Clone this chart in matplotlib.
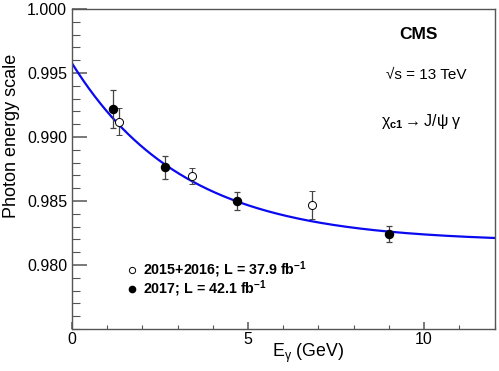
import numpy as np
import matplotlib
matplotlib.use('Agg')
import matplotlib.pyplot as plt
from matplotlib.ticker import MultipleLocator, FixedLocator, FormatStrFormatter

plt.rcParams['font.family'] = ['Liberation Sans', 'DejaVu Sans']
plt.rcParams['mathtext.fontset'] = 'custom'
plt.rcParams['mathtext.rm'] = 'Liberation Sans'
plt.rcParams['mathtext.it'] = 'Liberation Sans'
plt.rcParams['mathtext.bf'] = 'Liberation Sans:bold'

# 2015+2016 (open markers)
e_1516 = [1.33, 3.40, 6.82]
s_1516 = [0.99120, 0.98698, 0.98466]
err_1516 = [0.00108, 0.00062, 0.00110]

# 2017 (filled markers)
e_17 = [1.17, 2.64, 4.68, 9.00]
s_17 = [0.99219, 0.98765, 0.98500, 0.98242]
err_17 = [0.00150, 0.00090, 0.00068, 0.00065]

# fit: a + b*exp(-E/c)
fit_a, fit_b, fit_c = 0.9818, 0.01396, 3.16

y_ticks = [0.980, 0.985, 0.990, 0.995, 1.000]

fig = plt.figure(figsize=(4.99, 3.71), dpi=100)
ax = fig.add_axes((0.1443, 0.1132, 0.8467, 0.8625))

xx = np.linspace(0, 12, 300)
ax.plot(xx, fit_a + fit_b*np.exp(-xx/fit_c), '-', color='#0a0af0', lw=1.6, zorder=2)

ax.errorbar(e_17, s_17, yerr=err_17, fmt='o', ms=5.8, color='black', mfc='black',
            ecolor='#444444', elinewidth=0.9, capsize=2, capthick=0.9, zorder=3)
ax.errorbar(e_1516, s_1516, yerr=err_1516, fmt='o', ms=5.8, color='black', mfc='white',
            mew=0.7, ecolor='#444444', elinewidth=0.9, capsize=2, capthick=0.9, zorder=3)

ax.set_xlim(0, 12)
ax.set_ylim(0.975, 1.000)
ax.xaxis.set_major_locator(MultipleLocator(5))
ax.xaxis.set_minor_locator(MultipleLocator(1))
ax.yaxis.set_major_locator(FixedLocator(y_ticks))
ax.yaxis.set_minor_locator(MultipleLocator(0.001))
ax.yaxis.set_major_formatter(FormatStrFormatter('%.3f'))
ax.tick_params(axis='both', which='both', direction='in', color='#555555',
               labelsize=11.5, top=False, right=False)
ax.tick_params(axis='y', which='major', length=11, width=1.1, pad=3.5)
ax.tick_params(axis='y', which='minor', length=6, width=0.8)
ax.tick_params(axis='x', which='major', length=5, width=1.1, pad=2)
ax.tick_params(axis='x', which='minor', length=3, width=0.8)
for s in ax.spines.values():
    s.set_color('#555555')
    s.set_linewidth(1.0)

ax.set_ylabel('Photon energy scale', fontsize=13, y=0.603, labelpad=5)
fig.text(0.617, 0.048, r'E$_{\gamma}$ (GeV)', fontsize=12.8, ha='center', va='center')

ax.text(0.821, 0.919, 'CMS', transform=ax.transAxes, fontsize=12.5, fontweight='bold', ha='center', va='center')
ax.text(0.838, 0.794, '√s = 13 TeV', transform=ax.transAxes, fontsize=11, ha='center', va='center')
ax.text(0.828, 0.65, r'$\chi_{\mathbf{c1}}$$\rightarrow$J/ψ γ', transform=ax.transAxes,
        fontsize=11.5, ha='center', va='center')

ax.plot([1.70], [0.97961], 'o', ms=4.5, mfc='white', mec='black', mew=0.7)
ax.plot([1.70], [0.97813], 'o', ms=4.5, mfc='black', mec='black')
ax.text(2.02, 0.97961, r'2015+2016; L = 37.9 fb$^{\mathbf{-1}}$', fontsize=10.3, fontweight='bold', va='center')
ax.text(2.02, 0.97813, r'2017; L = 42.1 fb$^{\mathbf{-1}}$', fontsize=10.3, fontweight='bold', va='center')

fig.savefig('out.png', dpi=100)
